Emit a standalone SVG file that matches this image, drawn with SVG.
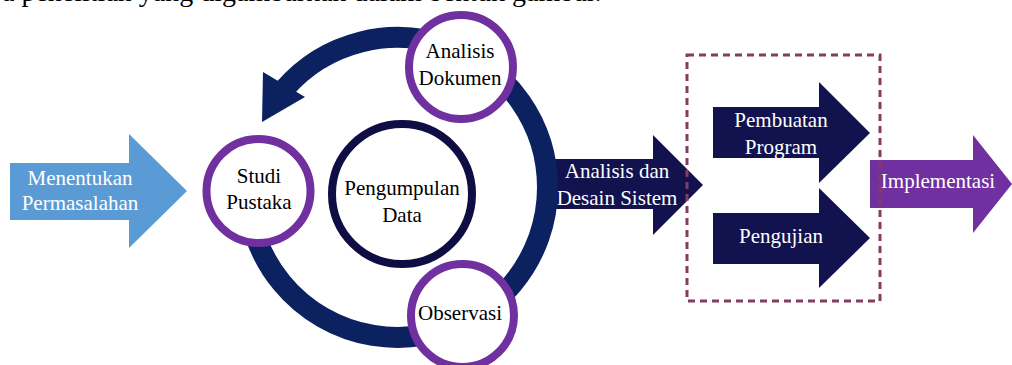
<svg xmlns="http://www.w3.org/2000/svg" width="1012" height="365" viewBox="0 0 1012 365">
<style>
  .t { font-family: "Liberation Serif", "Times New Roman", serif; font-size: 21px; text-anchor: middle; }
  .w { fill: #ffffff; }
  .k { fill: #000000; }
  .node { fill: #ffffff; stroke: #7030A0; stroke-width: 8; }
  .navy { fill: #12124E; }
</style>
<rect width="1012" height="365" fill="#ffffff"/>
<text x="2" y="1" style="font-family:'Liberation Serif','Times New Roman',serif;font-size:28px;fill:#000">a penelitian yang digambarkan dalam bentuk gambar.</text>

<g id="menentukan">
  <path d="M10,163 H129 V134 L187,191 L129,248 V220 H10 Z" fill="#5B9BD5"/>
  <text class="t w" x="80" y="185">Menentukan</text>
  <text class="t w" x="80" y="210">Permasalahan</text>
</g>

<g id="analisis-desain">
  <path d="M548,159 H653 V135 L703,185 L653,235 V209 H548 Z" class="navy"/>
  <text class="t w" x="617" y="178">Analisis dan</text>
  <text class="t w" x="617" y="205">Desain Sistem</text>
</g>

<g id="connectors">
  <path d="M256.55,238.8 A150,150 0 0 0 547.5,187.5 A150,150 0 0 0 284.29,89.09" fill="none" stroke="#0B2160" stroke-width="21"/>
  <polygon points="263,72 305,97 262,122" fill="#0B2160"/>
</g>

<g id="pengumpulan">
  <circle cx="402" cy="194" r="70" fill="#ffffff" stroke="#0E0E45" stroke-width="8"/>
  <text class="t k" x="402" y="195">Pengumpulan</text>
  <text class="t k" x="402" y="222">Data</text>
</g>

<g id="studi">
  <circle class="node" cx="258.5" cy="191" r="52"/>
  <text class="t k" x="259" y="183">Studi</text>
  <text class="t k" x="259" y="209">Pustaka</text>
</g>

<g id="analisis-dokumen">
  <circle class="node" cx="461" cy="67" r="52"/>
  <text class="t k" x="460" y="58">Analisis</text>
  <text class="t k" x="460" y="85">Dokumen</text>
</g>

<g id="observasi">
  <circle class="node" cx="462.5" cy="315.5" r="51.5"/>
  <text class="t k" x="460" y="320">Observasi</text>
</g>

<g id="pembuatan">
  <path d="M713,107 H819 V82 L870,133 L819,183 V158 H713 Z" class="navy"/>
  <text class="t w" x="781" y="127">Pembuatan</text>
  <text class="t w" x="781" y="154">Program</text>
</g>

<g id="pengujian">
  <path d="M713,213 H819 V188 L870,238 L819,288 V264 H713 Z" class="navy"/>
  <text class="t w" x="781" y="243">Pengujian</text>
</g>

<g id="implementasi">
  <path d="M870,160 H973 V135 L1012,184 L973,233 V208 H870 Z" fill="#7030A0"/>
  <text class="t w" x="938" y="188">Implementasi</text>
</g>

<g id="group-box">
  <rect x="687" y="55" width="193" height="246" fill="none" stroke="#853C60" stroke-width="3" stroke-dasharray="7 5"/>
</g>
</svg>
